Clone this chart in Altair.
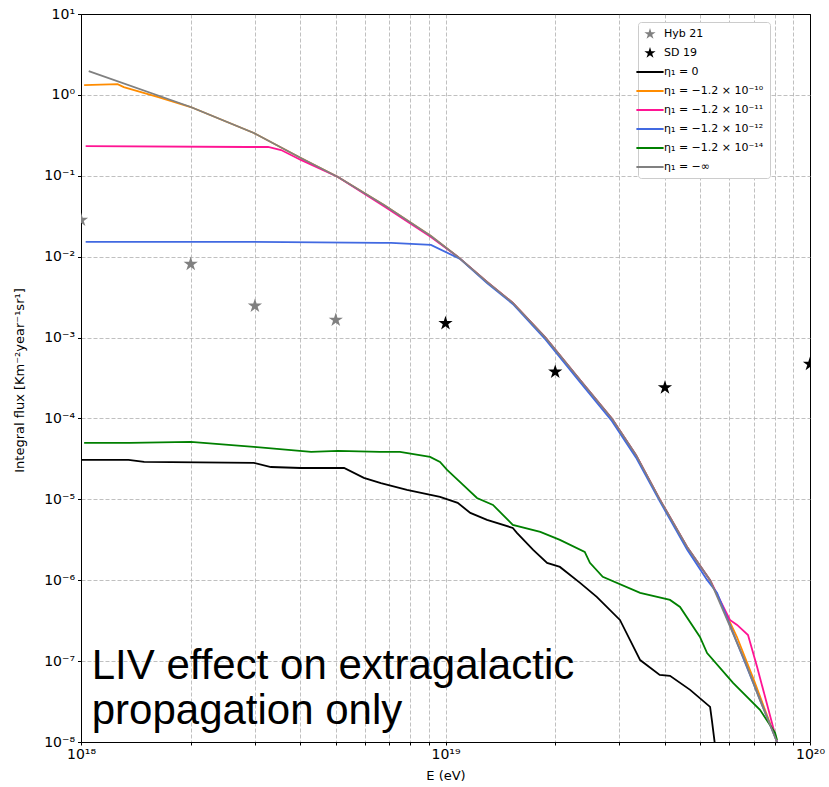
import altair as alt
import pandas as pd

# ---------------- series names ----------------
S_HYB = "Hyb 21"
S_SD = "SD 19"
L0 = "η₁ = 0"
L10 = "η₁ = −1.2 × 10⁻¹⁰"
L11 = "η₁ = −1.2 × 10⁻¹¹"
L12 = "η₁ = −1.2 × 10⁻¹²"
L14 = "η₁ = −1.2 × 10⁻¹⁴"
LINF = "η₁ = −∞"

# ---------------- data points (stars) ----------------
hyb_E = [1.0e18, 2.0e18, 3.0e18, 5.0e18]
hyb_F = [2.84e-2, 8.1e-3, 2.46e-3, 1.65e-3]
sd_E = [1.0e19, 2.0e19, 4.0e19, 1.0e20]
sd_F = [1.5e-3, 3.76e-4, 2.4e-4, 4.7e-4]

# ---------------- curves ----------------
black_E = [1.00e18, 1.35e18, 1.49e18, 2.98e18, 3.32e18, 4.01e18, 5.27e18, 5.97e18,
           6.65e18, 7.84e18, 9.66e18, 1.08e19, 1.17e19, 1.30e19, 1.53e19, 1.57e19,
           1.74e19, 1.90e19, 2.06e19, 2.34e19, 2.60e19, 3.01e19, 3.42e19, 3.87e19,
           4.13e19, 4.69e19, 5.32e19, 5.38e19, 5.49e19]
black_F = [3.07e-5, 3.07e-5, 2.90e-5, 2.82e-5, 2.51e-5, 2.44e-5, 2.44e-5, 1.84e-5,
           1.59e-5, 1.31e-5, 1.07e-5, 9.03e-6, 6.79e-6, 5.56e-6, 4.43e-6, 3.85e-6,
           2.37e-6, 1.64e-6, 1.46e-6, 9.27e-7, 6.22e-7, 3.23e-7, 1.03e-7, 6.76e-8,
           6.57e-8, 4.41e-8, 2.72e-8, 1.87e-8, 9.0e-9]

gray_E = [1.05e18, 2.00e18, 2.98e18, 4.01e18, 5.07e18, 6.78e18, 9.12e18, 1.08e19,
          1.30e19, 1.53e19, 1.88e19, 2.34e19, 2.86e19, 3.33e19, 3.87e19, 4.60e19,
          5.32e19, 6.63e19, 7.29e19, 8.12e19]
gray_F = [1.97, 0.708, 0.338, 0.166, 0.0966, 0.0435, 0.0180, 0.0100,
          4.86e-3, 2.68e-3, 1.0e-3, 2.99e-4, 1.0e-4, 3.54e-5, 1.0e-5, 2.58e-6,
          1.0e-6, 1.0e-7, 3.3e-8, 1.0e-8]

orange_E = [1.02e18, 1.26e18, 1.31e18, 1.63e18, 2.00e18, 2.98e18, 4.01e18, 5.07e18,
            6.78e18, 9.12e18, 1.08e19, 1.30e19, 1.53e19, 1.88e19, 2.34e19, 2.86e19,
            3.33e19, 3.87e19, 4.60e19, 5.32e19, 6.30e19, 7.00e19, 8.12e19]
orange_F = [1.32, 1.36, 1.25, 0.94, 0.708, 0.338, 0.166, 0.0966,
            0.0435, 0.0180, 0.0100, 4.86e-3, 2.68e-3, 1.0e-3, 2.99e-4, 1.0e-4,
            3.54e-5, 1.0e-5, 2.58e-6, 1.0e-6, 2.0e-7, 6.0e-8, 1.0e-8]

pink_E = [1.03e18, 2.87e18, 3.26e18, 3.54e18, 4.01e18, 5.07e18, 6.78e18, 9.12e18,
          1.08e19, 1.30e19, 1.53e19, 1.88e19, 2.34e19, 2.86e19, 3.33e19, 3.87e19,
          4.60e19, 5.32e19, 6.03e19, 6.31e19, 6.76e19, 7.16e19, 8.12e19]
pink_F = [0.233, 0.227, 0.227, 0.208, 0.157, 0.0966, 0.0420, 0.0175,
          0.0100, 4.86e-3, 2.68e-3, 1.0e-3, 2.99e-4, 1.0e-4, 3.54e-5, 1.0e-5,
          2.58e-6, 1.0e-6, 3.23e-7, 2.80e-7, 2.10e-7, 8.47e-8, 1.0e-8]

blue_E = [1.03e18, 2.98e18, 6.65e18, 7.09e18, 9.12e18, 1.10e19, 1.30e19, 1.53e19,
          1.88e19, 2.34e19, 2.86e19, 3.33e19, 3.87e19, 4.60e19, 5.22e19, 5.56e19,
          6.31e19, 8.12e19]
blue_F = [1.52e-2, 1.52e-2, 1.48e-2, 1.48e-2, 1.40e-2, 9.3e-3, 4.7e-3, 2.6e-3,
          9.5e-4, 2.8e-4, 9.3e-5, 3.3e-5, 9.5e-6, 2.4e-6, 1.01e-6, 6.97e-7,
          1.68e-7, 1.0e-8]

green_E = [1.02e18, 1.36e18, 2.00e18, 2.98e18, 4.28e18, 5.07e18, 6.61e18, 7.50e18,
           9.07e18, 9.66e18, 1.01e19, 1.11e19, 1.22e19, 1.35e19, 1.53e19, 1.82e19,
           2.06e19, 2.41e19, 2.49e19, 2.70e19, 3.42e19, 4.13e19, 4.40e19, 4.99e19,
           5.22e19, 6.15e19, 7.29e19, 8.02e19, 8.12e19]
green_F = [4.98e-5, 5.0e-5, 5.12e-5, 4.45e-5, 3.86e-5, 3.97e-5, 3.86e-5, 3.86e-5,
           3.34e-5, 2.90e-5, 2.31e-5, 1.55e-5, 1.04e-5, 8.52e-6, 4.83e-6, 3.95e-6,
           3.15e-6, 2.24e-6, 1.64e-6, 1.10e-6, 6.97e-7, 5.71e-7, 4.68e-7, 1.99e-7,
           1.26e-7, 5.38e-8, 2.50e-8, 1.30e-8, 1.06e-8]

# ---------------- annotation ----------------
ANN_LINES = ["LIV effect on extragalactic", "propagation only"]
ANN_E = 1.07e18
ANN_F = [6.0e-8, 1.67e-8]

# ---------------- tables ----------------
curves = [(L0, black_E, black_F), (L10, orange_E, orange_F), (L11, pink_E, pink_F),
          (L12, blue_E, blue_F), (L14, green_E, green_F), (LINF, gray_E, gray_F)]
rows = []
for name, es, fs in curves:
    for e, f in zip(es, fs):
        rows.append({"series": name, "E": e, "F": f})
lines_df = pd.DataFrame(rows)

prow = []
for name, es, fs in [(S_HYB, hyb_E, hyb_F), (S_SD, sd_E, sd_F)]:
    for e, f in zip(es, fs):
        prow.append({"series": name, "E": e, "F": f})
points_df = pd.DataFrame(prow)

ann_df = pd.DataFrame({"E": [ANN_E, ANN_E], "F": ANN_F, "label": ANN_LINES})

# ---------------- scales / axes ----------------
line_domain = [L0, L10, L11, L12, L14, LINF]
line_colors = ["black", "darkorange", "deeppink", "royalblue", "green", "gray"]
domain = [S_HYB, S_SD] + line_domain
colors = ["gray", "black"] + line_colors
STAR = ("M0,-1L0.2245,-0.309L0.9511,-0.309L0.3633,0.118L0.5878,0.809L0,0.382"
        "L-0.5878,0.809L-0.3633,0.118L-0.9511,-0.309L-0.2245,-0.309Z")
LINE_SYM = "M-2.3,-0.17L2.3,-0.17L2.3,0.17L-2.3,0.17Z"
shapes = [STAR, STAR] + [LINE_SYM] * 6

SUP = str.maketrans("-0123456789", "⁻⁰¹²³⁴⁵⁶⁷⁸⁹")


def p10(n):
    return "10" + str(n).translate(SUP)


LG = "round(log(datum.value)/LN10)"
IS_MAJOR = f"abs(log(datum.value)/LN10 - {LG}) < 0.001"


def label_expr(exps):
    s = "''"
    for n in reversed(exps):
        s = f"{LG} == {n} ? '{p10(n)}' : ({s})"
    return s


def edge_grid(test):
    return dict(
        gridColor={"condition": {"test": test, "value": "black"}, "value": "#b0b0b0"},
        gridDash={"condition": {"test": test, "value": [1, 0]}, "value": [4, 2]},
        gridWidth={"condition": {"test": test, "value": 1}, "value": 0.8},
    )


x_values = [float(k) * 10.0 ** d for d in (18, 19) for k in range(1, 10)] + [1e20]
y_values = [10.0 ** n for n in range(-8, 2)]

xscale = alt.Scale(type="log", domain=[1e18, 1e20], nice=False)
yscale = alt.Scale(type="log", domain=[1e-8, 1e1], nice=False)

xaxis = alt.Axis(
    values=x_values,
    labelExpr=f"{IS_MAJOR} ? ({label_expr([18, 19, 20])}) : ''",
    tickSize=3, grid=True, labelFlush=False, labelOverlap=False, labelPadding=2,
    title="E (eV)", titleX=364.5, titleY=33, titleBaseline="middle", titleAlign="center",
    **edge_grid("datum.value > 9.9e19"),
)
yaxis = alt.Axis(
    values=y_values,
    labelExpr=label_expr(list(range(-8, 2))),
    tickSize=3.5, grid=True, labelFlush=False, labelOverlap=False, labelPadding=3,
    title="Integral flux [Km⁻²year⁻¹sr¹]", titleX=-62, titleY=366,
    titleBaseline="middle", titleAlign="center", titleAngle=270,
    **edge_grid("datum.value > 9.9"),
)

legend = alt.Legend(
    title=None, orient="none", legendX=557, legendY=8,
    padding=6, rowPadding=8, symbolSize=140, symbolStrokeWidth=0,
    labelFont="DejaVu Sans", labelFontSize=11, labelOffset=8, labelColor="black",
    labelLimit=0, strokeColor="#cccccc", fillColor="white", cornerRadius=3, symbolOpacity=1,
)

lines = alt.Chart(lines_df).mark_line(strokeWidth=1.8, clip=True).encode(
    x=alt.X("E:Q", scale=xscale, axis=xaxis),
    y=alt.Y("F:Q", scale=yscale, axis=yaxis),
    color=alt.Color("series:N", scale=alt.Scale(domain=line_domain, range=line_colors), legend=None),
)

points = alt.Chart(points_df).mark_point(filled=True, size=225, clip=True, opacity=1, strokeWidth=0).encode(
    x=alt.X("E:Q", scale=xscale, axis=xaxis),
    y=alt.Y("F:Q", scale=yscale, axis=yaxis),
    fill=alt.Fill("series:N", scale=alt.Scale(domain=domain, range=colors), legend=legend),
    shape=alt.Shape("series:N", scale=alt.Scale(domain=domain, range=shapes), legend=legend),
)

text = alt.Chart(ann_df).mark_text(
    align="left", baseline="alphabetic", fontSize=42, font="Liberation Sans", color="black"
).encode(
    x=alt.X("E:Q", scale=xscale, axis=xaxis),
    y=alt.Y("F:Q", scale=yscale, axis=yaxis),
    text="label:N",
)

chart = alt.layer(lines, points, text).properties(
    width=729, height=728,
    autosize=alt.AutoSizeParams(type="none"),
    padding={"left": 81, "top": 14, "right": 19, "bottom": 45},
    background="white",
).configure_view(
    stroke="black", strokeWidth=1
).configure_axis(
    labelFont="DejaVu Sans", labelFontSize=14, labelColor="black",
    titleFont="DejaVu Sans", titleFontSize=13, titleColor="black", titleFontWeight="normal",
    domainColor="black", tickColor="black", domainWidth=1, tickWidth=1,
    gridColor="#b0b0b0", gridDash=[4, 2], gridWidth=0.8,
)

chart.save("out.html", embed_options={"renderer": "svg", "actions": False})
